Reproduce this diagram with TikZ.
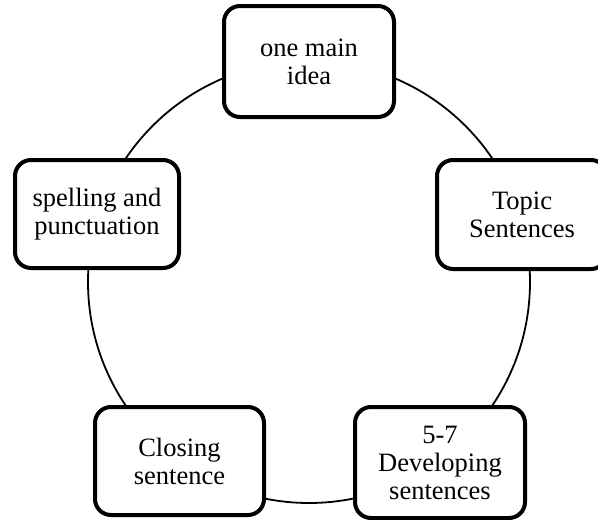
\documentclass[tikz,border=0pt]{standalone}
\usepackage{fontspec}
\setmainfont{Liberation Serif}
\begin{document}
\begin{tikzpicture}[x=1pt,y=-1pt,
  box/.style={draw=black, line width=4pt, rounded corners=16pt, fill=white,
    align=center, font=\fontsize{26.5}{28}\selectfont, inner sep=0pt},
  ring/.style={draw=black, line width=1.8pt}]
\useasboundingbox (0,0) rectangle (598,520);
\clip (0,0) rectangle (598,520);
\coordinate (c) at (309,282);
\draw[ring] (c) circle[radius=221pt];
\node[box, minimum width=170pt, minimum height=111pt] (a) at (309,61.5) {one main\\idea};
\node[box, minimum width=170pt, minimum height=109pt] (b) at (522,214.5) {Topic\\Sentences};
\node[box, minimum width=170pt, minimum height=111pt] (d) at (440,462.5) {5-7\\Developing\\sentences};
\node[box, minimum width=169pt, minimum height=108pt] (e) at (179.5,461) {Closing\\sentence};
\node[box, minimum width=164pt, minimum height=108pt] (f) at (97,214) {spelling and\\punctuation};
\end{tikzpicture}
\end{document}
